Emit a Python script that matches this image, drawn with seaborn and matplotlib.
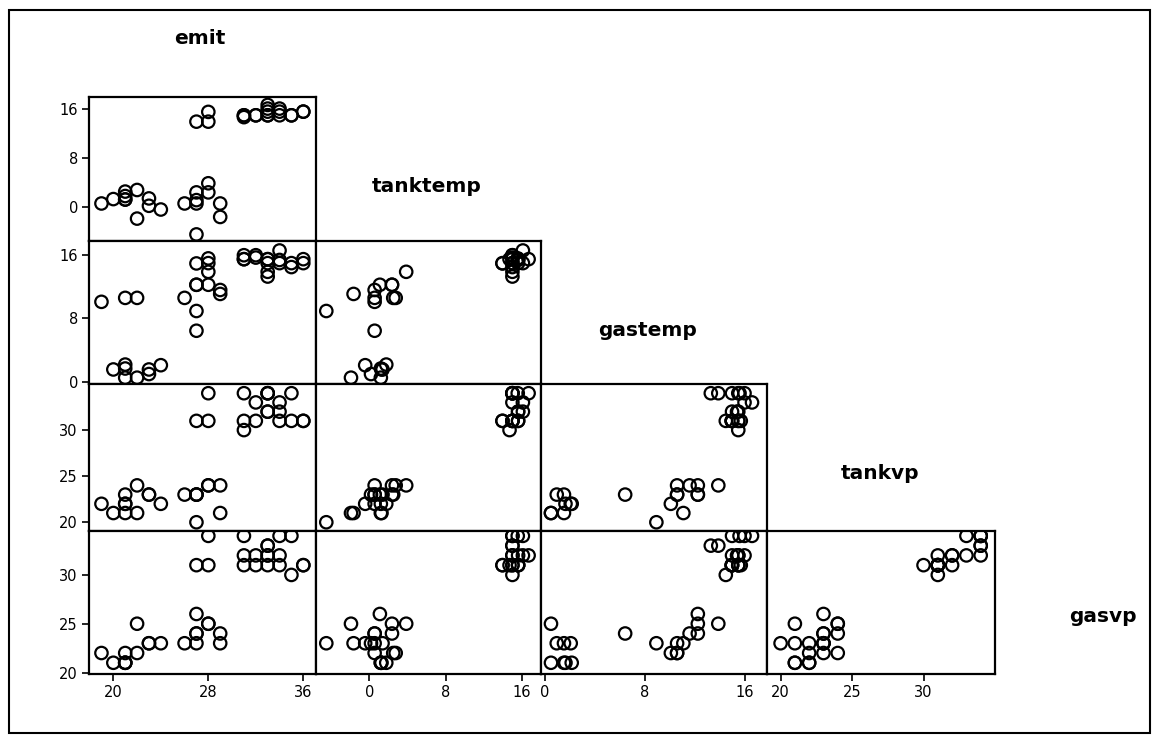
import matplotlib
matplotlib.use("Agg")
import matplotlib.pyplot as plt
import seaborn as sns
import pandas as pd
from matplotlib.patches import Rectangle

emit = [19, 20, 21, 21, 21, 21, 22, 22, 23, 23, 24,
        26, 27, 27, 27, 27, 27, 28, 28, 28, 28, 29, 29,
        31, 31, 31, 32, 32, 33, 33, 33, 33, 33, 34, 34, 34, 35, 35, 36, 36]
tanktemp = [0.55, 1.27, 2.5, 1.77, 1.2, 1.2, 2.76, -1.93, 1.38, 0.17, -0.44,
            0.55, -4.52, 0.55, 2.37, 1.1, 13.96, 15.56, 13.96, 3.86, 2.37, 0.55, -1.66,
            15.0, 15.0, 14.7, 15.0, 15.0, 16.7, 16.1, 15.0, 15.0, 15.6, 16.1, 15.6, 15.0,
            15.0, 15.0, 15.6, 15.6]
gastemp = [10.1, 1.54, 10.6, 2.16, 1.66, 0.5, 10.6, 0.5, 1.54, 0.96, 2.08,
           10.6, 8.94, 6.44, 12.26, 12.26, 14.96, 15.6, 15.0, 13.9, 12.26, 11.6, 11.1,
           16.0, 15.5, 15.5, 16.0, 15.7, 15.5, 15.0, 13.3, 13.9, 15.5, 16.6, 15.4, 15.0,
           15.0, 14.5, 15.5, 15.0]
tankvp = [22, 21, 23, 22, 22, 21, 24, 21, 23, 23, 22,
          23, 20, 23, 23, 23, 31, 34, 31, 24, 24, 24, 21,
          34, 31, 30, 33, 31, 34, 32, 34, 34, 32, 33, 32, 31,
          34, 31, 31, 31]
gasvp = [22, 21, 22, 21, 21, 21, 22, 25, 23, 23, 23,
         23, 23, 24, 24, 26, 31, 34, 31, 25, 25, 24, 23,
         34, 32, 31, 32, 31, 32, 32, 33, 33, 31, 34, 32, 31,
         34, 30, 31, 31]

df = pd.DataFrame({"emit": emit, "tanktemp": tanktemp, "gastemp": gastemp,
                   "tankvp": tankvp, "gasvp": gasvp})

names = ["emit", "tanktemp", "gastemp", "tankvp", "gasvp"]
lims = {"emit": (17.95, 37.07), "tanktemp": (-5.6, 18.0), "gastemp": (-0.3, 17.8),
        "tankvp": (19.05, 35.0), "gasvp": (19.85, 34.5)}
ticks = {"emit": [20, 28, 36], "tanktemp": [0, 8, 16], "gastemp": [0, 8, 16],
         "tankvp": [20, 25, 30], "gasvp": [20, 25, 30]}

sns.set_style("white")
plt.rcParams["font.family"] = ["DejaVu Sans"]
plt.rcParams["text.color"] = "black"
plt.rcParams["xtick.color"] = "black"
plt.rcParams["ytick.color"] = "black"

W, H = 1158, 735
fig = plt.figure(figsize=(W / 100, H / 100), dpi=100)

# panel edges in pixels
col_edges = [89, 316, 541, 767, 995]
row_edges = [97, 241, 384, 531, 674]

for i in range(1, 5):
    for j in range(i):
        left = col_edges[j] / W
        width = (col_edges[j + 1] - col_edges[j]) / W
        bottom = 1 - row_edges[i] / H
        height = (row_edges[i] - row_edges[i - 1]) / H
        ax = fig.add_axes([left, bottom, width, height])
        sns.scatterplot(data=df, x=names[j], y=names[i], ax=ax, marker="o", s=80,
                        facecolors="none", edgecolor="black", linewidth=1.6,
                        legend=False)
        ax.set_xlim(lims[names[j]])
        ax.set_ylim(lims[names[i]])
        ax.set_xlabel("")
        ax.set_ylabel("")
        for sp in ax.spines.values():
            sp.set_visible(True)
            sp.set_color("black")
            sp.set_linewidth(1.6)
        if i == 4:
            ax.set_xticks(ticks[names[j]])
            ax.set_xticklabels([str(t) for t in ticks[names[j]]])
        else:
            ax.set_xticks([])
        if j == 0:
            ax.set_yticks(ticks[names[i]])
            ax.set_yticklabels([str(t) for t in ticks[names[i]]])
        else:
            ax.set_yticks([])
        ax.tick_params(direction="out", length=5, width=1.2, labelsize=10.5,
                       pad=3, colors="black", bottom=(i == 4), left=(j == 0))

# variable names on the diagonal
label_pos = [(200, 38), (427, 187), (648, 330), (880, 474), (1103, 617)]
for name, (px, py) in zip(names, label_pos):
    fig.text(px / W, 1 - py / H, name, ha="center", va="center",
             fontsize=14.5, fontweight="bold", color="black")

# outer frame
fig.patches.append(Rectangle((9 / W, 2 / H), 1141 / W, 723 / H, fill=False,
                             edgecolor="black", linewidth=1.5,
                             transform=fig.transFigure, figure=fig))

fig.savefig("out.png", dpi=100)
